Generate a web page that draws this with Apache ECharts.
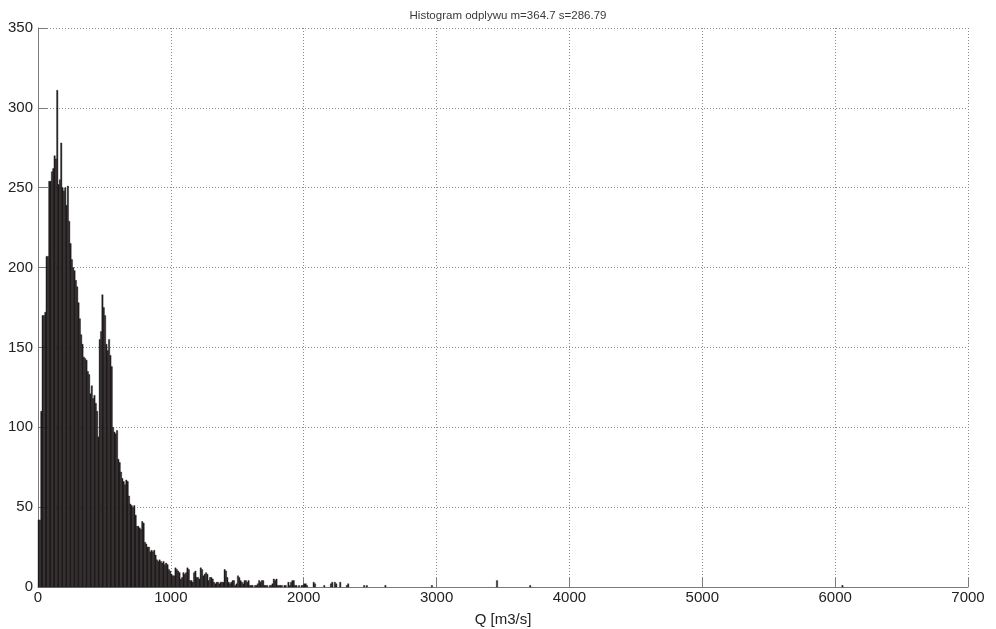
<!DOCTYPE html>
<html>
<head>
<meta charset="utf-8">
<script src="https://cdn.jsdelivr.net/npm/echarts@6/dist/echarts.min.js"></script>
<style>
html,body{margin:0;padding:0;background:#fff;}
#c{width:996px;height:629px;}
</style>
</head>
<body>
<div id="c"></div>
<script>
// Title and axis texts
var titleText = 'Histogram odplywu m=364.7 s=286.79';
var xAxisName = 'Q [m3/s]';
var xTicks = [0, 1000, 2000, 3000, 4000, 5000, 6000, 7000];
var yTicks = [0, 50, 100, 150, 200, 250, 300, 350];

// Bin width (m3/s)
var binWidth = 10;

// Counts for consecutive bins 0-10, 10-20, ... , 1990-2000
var mainCounts = [
  42, 42, 110, 170, 170, 172, 207, 207, 254, 254,       // 0-100
  260, 262, 270, 268, 311, 252, 255, 278, 250, 248,     // 100-200
  250, 239, 251, 229, 215, 205, 200, 198, 192, 188,     // 200-300
  178, 168, 158, 152, 144, 143, 142, 135, 133, 121,     // 300-400
  126, 118, 120, 115, 110, 94, 155, 160, 183, 175,      // 400-500
  170, 152, 148, 155, 145, 138, 100, 97, 96, 98,        // 500-600
  80, 78, 72, 68, 66, 64, 67, 66, 57, 52,               // 600-700
  51, 50, 51, 45, 38, 38, 37, 36, 41, 40,               // 700-800
  28, 27, 25, 25, 22, 23, 22, 23, 20, 17,               // 800-900
  16, 17, 16, 15, 16, 14, 15, 14, 11, 10,               // 900-1000
  8, 7, 7, 12, 11, 10, 9, 5, 6, 9,                      // 1000-1100
  8, 9, 12, 11, 4, 4, 3, 9, 10, 6,                      // 1100-1200
  6, 5, 12, 11, 7, 8, 9, 8, 4, 6,                       // 1200-1300
  6, 5, 3, 2, 3, 3, 2, 3, 3, 3,                         // 1300-1400
  11, 10, 6, 3, 2, 3, 4, 4, 1, 2,                       // 1400-1500
  7, 6, 4, 3, 2, 4, 4, 3, 4, 1,                         // 1500-1600
  1, 1, 0, 1, 1, 2, 4, 3, 4, 4,                         // 1600-1700
  1, 1, 1, 0, 1, 1, 2, 5, 4, 5,                         // 1700-1800
  1, 1, 1, 1, 0, 1, 1, 0, 3, 1,                         // 1800-1900
  3, 4, 4, 1, 1, 0, 1, 0, 1, 1                          // 1900-2000
];

// Sparse tail: bin left edges and counts above 2000 m3/s
var tailEdges  = [2000, 2010, 2020, 2070, 2080, 2150, 2200, 2210, 2230, 2240, 2270, 2320, 2330, 2450, 2470, 2610, 2960, 3450, 3700, 6050];
var tailCounts = [2,    2,    1,    3,    2,    1,    2,    3,    3,    2,    3,    1,    2,    1,    1,    1,    1,    4,    1,    1];

// Build data rows [start, end, count]
var rows = [];
mainCounts.forEach(function (c, i) {
  if (c > 0) rows.push([i * binWidth, (i + 1) * binWidth, c]);
});
tailEdges.forEach(function (e, i) {
  rows.push([e, e + binWidth, tailCounts[i]]);
});

var chart = echarts.init(document.getElementById('c'), null, {renderer: 'canvas'});
var labelFont = 'Liberation Sans, Arial, sans-serif';
var axisGrey = '#7a7a7a';

chart.setOption({
  animation: false,
  backgroundColor: '#ffffff',
  title: {
    text: titleText,
    left: 503,
    textAlign: 'center',
    top: 5,
    textStyle: {fontSize: 11.5, fontWeight: 'normal', color: '#3a3a3a', fontFamily: labelFont}
  },
  grid: {left: 38, right: 28, top: 28, bottom: 42, containLabel: false, outerBoundsMode: 'none'},
  xAxis: {
    type: 'value',
    min: xTicks[0],
    max: xTicks[xTicks.length - 1],
    interval: xTicks[1] - xTicks[0],
    name: xAxisName,
    nameLocation: 'middle',
    nameGap: 25,
    nameTextStyle: {fontSize: 15, color: '#222', fontFamily: labelFont},
    axisLine: {show: true, lineStyle: {color: axisGrey, width: 1}},
    axisTick: {show: true, inside: true, length: 9, lineStyle: {color: axisGrey}},
    axisLabel: {fontSize: 15, color: '#222', margin: 3, fontFamily: labelFont,
      formatter: function (v) { return String(v); }},
    splitLine: {show: true, lineStyle: {color: '#8a8a8a', type: [1, 2], width: 1}}
  },
  yAxis: {
    type: 'value',
    min: yTicks[0],
    max: yTicks[yTicks.length - 1],
    interval: yTicks[1] - yTicks[0],
    axisLine: {show: true, lineStyle: {color: axisGrey, width: 1}},
    axisTick: {show: true, inside: true, length: 9, lineStyle: {color: axisGrey}},
    axisLabel: {fontSize: 15, color: '#222', margin: 5, fontFamily: labelFont,
      formatter: function (v) { return String(v); }},
    splitLine: {show: true, lineStyle: {color: '#8a8a8a', type: [1, 2], width: 1}}
  },
  series: [{
    type: 'custom',
    data: rows,
    encode: {x: [0, 1], y: 2},
    renderItem: function (params, api) {
      var p0 = api.coord([api.value(0), 0]);
      var p1 = api.coord([api.value(1), api.value(2)]);
      return {
        type: 'rect',
        shape: {x: p0[0], y: p1[1], width: Math.max(p1[0] - p0[0], 1), height: p0[1] - p1[1]},
        style: {fill: '#201c1d', stroke: '#201c1d', lineWidth: 0.4}
      };
    }
  }]
});
</script>
</body>
</html>
